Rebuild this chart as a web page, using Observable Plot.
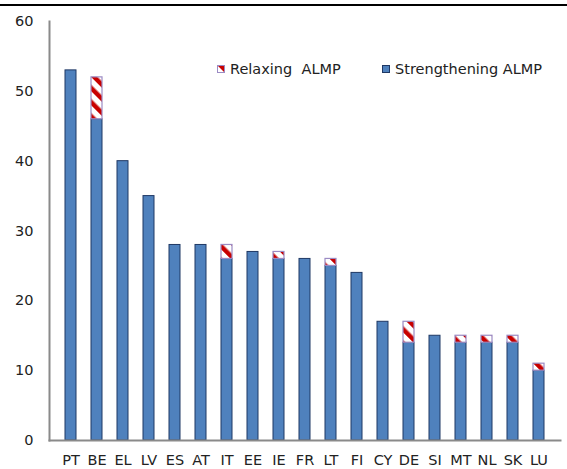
<!DOCTYPE html>
<html>
<head>
<meta charset="utf-8">
<script src="https://cdn.jsdelivr.net/npm/d3@7"></script>
<script src="https://cdn.jsdelivr.net/npm/@observablehq/plot@0.6"></script>
<style>
  html, body { margin: 0; padding: 0; background: #fff; }
  #wrap { position: relative; width: 567px; height: 469px; overflow: hidden; font-family: "DejaVu Sans", Verdana, sans-serif; }
  #topline { position: absolute; left: 0; top: 4px; width: 567px; height: 1.5px; background: #000; }
  .leg { position: absolute; top: 60px; font-size: 14.5px; color: #222; white-space: pre; line-height: 18px; display: flex; align-items: center; }
  .leg svg { margin-right: 5px; }
</style>
</head>
<body>
<div id="wrap">
  <div id="chart"></div>
  <div id="topline"></div>
  <div class="leg" style="left:217px"><svg width="8" height="8"><rect x="0.5" y="0.5" width="7" height="7" fill="url(#relaxStripes)" stroke="#9B8BC4" stroke-width="1"/></svg>Relaxing  ALMP</div>
  <div class="leg" style="left:382px"><svg width="8" height="8"><rect x="0.5" y="0.5" width="7" height="7" fill="#4F81BD" stroke="#1F3864" stroke-width="1"/></svg>Strengthening ALMP</div>
</div>
<script>
const countries = ["PT","BE","EL","LV","ES","AT","IT","EE","IE","FR","LT","FI","CY","DE","SI","MT","NL","SK","LU"];
const strengthening = [53,46,40,35,28,28,26,27,26,26,25,24,17,14,15,14,14,14,10];
const relaxing = [0,6,0,0,0,0,2,0,1,0,1,0,0,3,0,1,1,1,1];
const yTicks = [0,10,20,30,40,50,60];

const rows = countries.map((c, i) => ({country: c, s: strengthening[i], r: relaxing[i]}));
const relaxRows = rows.filter(d => d.r > 0);

const chart = Plot.plot({
  width: 567,
  height: 469,
  marginTop: 21,
  marginBottom: 29,
  marginLeft: 49,
  marginRight: 7,
  style: {fontFamily: '"DejaVu Sans", Verdana, sans-serif', fontSize: "14.5px", color: "#222", background: "#fff"},
  x: {domain: countries, padding: 0.57, label: null, tickSize: 0, tickPadding: 14},
  y: {domain: [0, 60], ticks: yTicks, label: null, tickSize: 0, tickPadding: 16},
  marks: [
    Plot.barY(rows, {x: "country", y1: 0, y2: "s", fill: "#4F81BD", stroke: "#1F3864", strokeWidth: 1}),
    Plot.barY(relaxRows, {x: "country", y1: "s", y2: d => d.s + d.r, fill: "url(#relaxStripes)", stroke: "#9B8BC4", strokeWidth: 1.2}),
    Plot.frame({anchor: "left", stroke: "#8A8A8A", strokeWidth: 2}),
    Plot.frame({anchor: "bottom", stroke: "#8A8A8A", strokeWidth: 2})
  ]
});

const ns = "http://www.w3.org/2000/svg";
const defs = document.createElementNS(ns, "defs");
const pat = document.createElementNS(ns, "pattern");
pat.setAttribute("id", "relaxStripes");
pat.setAttribute("patternUnits", "userSpaceOnUse");
pat.setAttribute("width", "10");
pat.setAttribute("height", "10");
pat.setAttribute("patternTransform", "rotate(-45)");
const bg = document.createElementNS(ns, "rect");
bg.setAttribute("width", "10"); bg.setAttribute("height", "10"); bg.setAttribute("fill", "#fff");
const st = document.createElementNS(ns, "rect");
st.setAttribute("width", "4.5"); st.setAttribute("height", "10"); st.setAttribute("fill", "#C80000");
pat.appendChild(bg); pat.appendChild(st);
defs.appendChild(pat);
chart.insertBefore(defs, chart.firstChild);

document.getElementById("chart").appendChild(chart);
</script>
</body>
</html>
